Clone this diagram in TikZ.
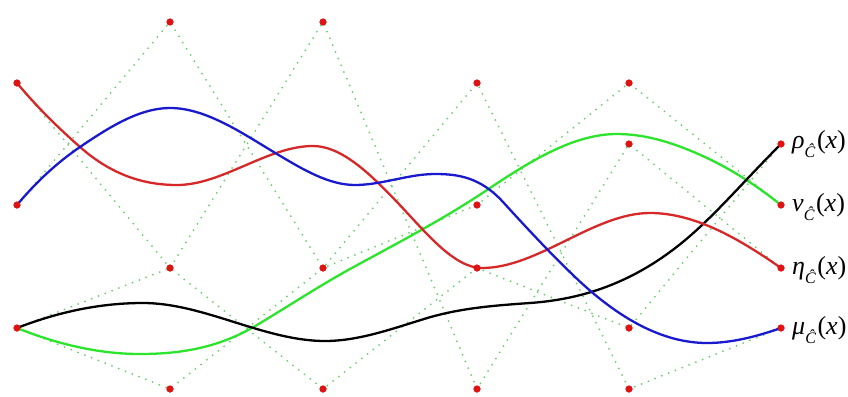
\documentclass[tikz,border=0pt]{standalone}
\usepackage{fontspec}
\setmainfont{Liberation Serif}
\definecolor{dotred}{RGB}{222,20,20}
\definecolor{ctrlgreen}{RGB}{105,205,105}
\definecolor{cred}{RGB}{214,40,40}
\definecolor{cblue}{RGB}{25,25,205}
\definecolor{cgreen}{RGB}{45,228,45}
\newcommand{\sublbl}[1]{\textit{#1}\raisebox{-0.32em}{\fontsize{16}{16}\selectfont\textit{Ĉ}}\kern1.5pt(\textit{x})}
\begin{document}
\begin{tikzpicture}[x=1pt,y=-1pt,
  dot/.style={circle, fill=dotred, inner sep=0pt, minimum size=7pt},
  ctrl/.style={draw=ctrlgreen, line width=2pt, line cap=round, dash pattern=on 0pt off 7.3pt},
  curve/.style={line width=2.3pt, line cap=round, line join=round},
  lbl/.style={anchor=west, inner sep=0pt, font=\fontsize{26}{28}\selectfont}]
\useasboundingbox (0,0) rectangle (848,396);
% control points
\node[dot] (A83)  at (17,83)  {};
\node[dot] (A205) at (17,205) {};
\node[dot] (A328) at (17,328) {};
\node[dot] (B22)  at (170,22)  {};
\node[dot] (B268) at (170,268) {};
\node[dot] (B389) at (170,389) {};
\node[dot] (C22)  at (323,22)  {};
\node[dot] (C268) at (323,268) {};
\node[dot] (C389) at (323,389) {};
\node[dot] (D83)  at (477,83)  {};
\node[dot] (D205) at (477,205) {};
\node[dot] (D268) at (477,268) {};
\node[dot] (D389) at (477,389) {};
\node[dot] (E83)  at (629,83)  {};
\node[dot] (E144) at (629,144) {};
\node[dot] (E328) at (629,328) {};
\node[dot] (E389) at (629,389) {};
\node[dot] (F144) at (781,144) {};
\node[dot] (F205) at (781,205) {};
\node[dot] (F268) at (781,268) {};
\node[dot] (F328) at (781,328) {};
% control polygons
\draw[ctrl] (A83.center) -- (B268.center) -- (C22.center) -- (D389.center) -- (E144.center) -- (F268.center);
\draw[ctrl] (A205.center) -- (B22.center) -- (C268.center) -- (D83.center) -- (E389.center) -- (F328.center);
\draw[ctrl] (A328.center) -- (B389.center) -- (C268.center) -- (D205.center) -- (E83.center) -- (F205.center);
\draw[ctrl] (A328.center) -- (B268.center) -- (C389.center) -- (D268.center) -- (E328.center) -- (F144.center);
% curves
\draw[curve, cgreen] (A328.center)
  .. controls (58,344.4) and (99,354) .. (140,354)
  .. controls (179,354) and (218,348.4) .. (257,325)
  .. controls (288,306.4) and (319,286.1) .. (350,269)
  .. controls (395.7,243.9) and (441.3,220.6) .. (487,190)
  .. controls (530.3,161) and (573.7,134) .. (617,134)
  .. controls (647,134) and (677,143.9) .. (707,158)
  .. controls (731.7,169.6) and (756.3,185.3) .. (F205.center);
\draw[curve, black] (A328.center)
  .. controls (59,311.6) and (101,303) .. (143,303)
  .. controls (203.7,303) and (264.3,341) .. (325,341)
  .. controls (358,341) and (391,329.2) .. (424,319)
  .. controls (459.3,308) and (494.7,305.5) .. (530,303)
  .. controls (578,299.6) and (626,285.5) .. (674,249)
  .. controls (709.7,221.9) and (738.2,186.8) .. (F144.center);
\draw[curve, cred] (A83.center)
  .. controls (38,108.2) and (59,128.5) .. (80,147)
  .. controls (112.3,175.5) and (144.7,185) .. (177,185)
  .. controls (222.3,185) and (267.7,146) .. (313,146)
  .. controls (341,146) and (369,172.6) .. (397,202)
  .. controls (425.3,231.7) and (453.7,268) .. (482,268)
  .. controls (538,268) and (594,213) .. (650,213)
  .. controls (693.7,213) and (737.3,237.4) .. (F268.center);
\draw[curve, cblue] (A205.center)
  .. controls (38,179.8) and (59,161.3) .. (80,147)
  .. controls (110,126.6) and (140,108) .. (170,108)
  .. controls (205.7,108) and (241.3,132.6) .. (277,154)
  .. controls (303,169.6) and (329,185) .. (355,185)
  .. controls (381.7,185) and (408.3,174) .. (435,174)
  .. controls (457.7,174) and (480.3,177.1) .. (503,202)
  .. controls (526.7,228) and (550.3,253.3) .. (574,276)
  .. controls (618.3,318.6) and (662.7,343) .. (707,343)
  .. controls (731.7,343) and (756.3,336.6) .. (F328.center);
% redraw dots on top
\foreach \n in {A83,A205,A328,B22,B268,B389,C22,C268,C389,D83,D205,D268,D389,E83,E144,E328,E389,F144,F205,F268,F328}
  \fill[dotred] (\n.center) circle (3.5pt);
% labels
\node[lbl] (lrho) at (792,144) {\sublbl{ρ}};
\node[lbl] (lnu)  at (792,207) {\sublbl{ν}};
\node[lbl] (leta) at (792,270) {\sublbl{η}};
\node[lbl] (lmu)  at (792,330) {\sublbl{μ}};
\end{tikzpicture}
\end{document}
